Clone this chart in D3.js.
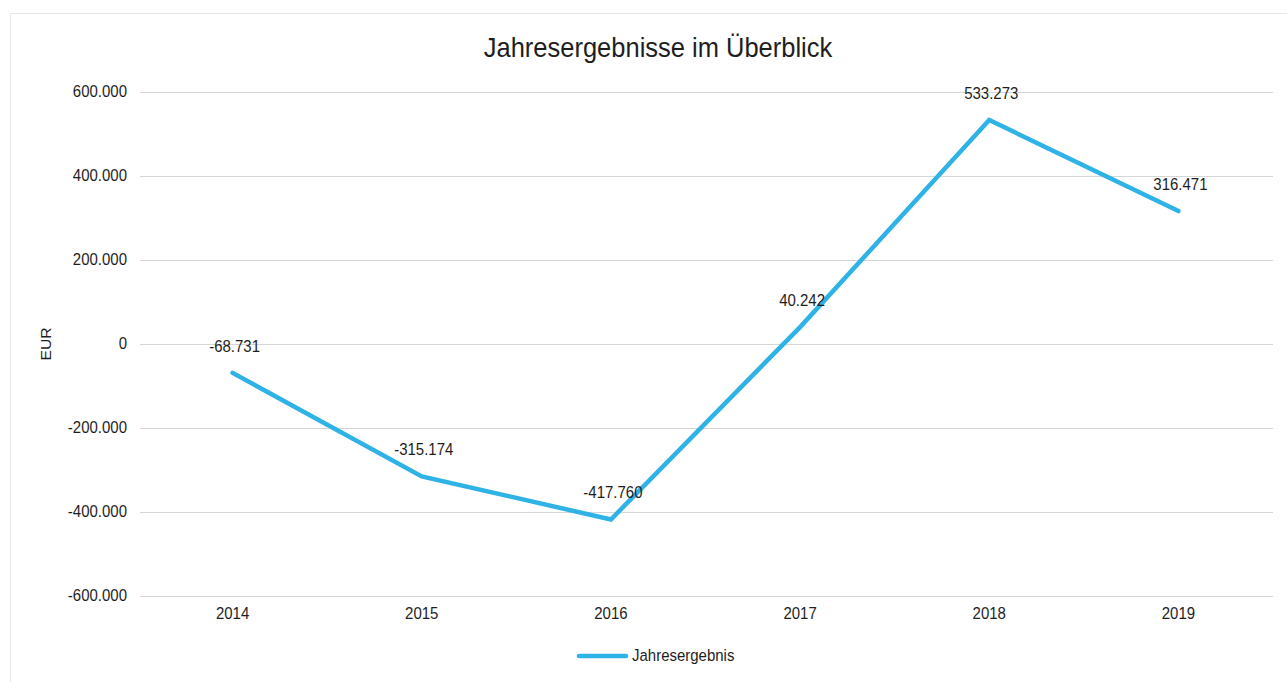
<!DOCTYPE html>
<html>
<head>
<meta charset="utf-8">
<script src="https://cdn.jsdelivr.net/npm/d3@7"></script>
<style>
  html, body { margin: 0; padding: 0; background: #fff; }
  svg { display: block; font-family: "Liberation Sans", Arial, sans-serif; }
</style>
</head>
<body>
<svg id="chart" width="1287" height="682"></svg>
<script>
// Annual results (EUR)
const years = ["2014", "2015", "2016", "2017", "2018", "2019"];
const results = [-68731, -315174, -417760, 40242, 533273, 316471];
const yTicks = [-600000, -400000, -200000, 0, 200000, 400000, 600000];
const seriesName = "Jahresergebnis";
const chartTitle = "Jahresergebnisse im Überblick";
const axisTitle = "EUR";

const W = 1287, H = 682;
const margin = { top: 92, right: 14, bottom: 86, left: 138 };
const color = "#2fb2e6";
const ink = "#1e1e1e";
const stretch = 1.12; // glyphs are drawn slightly taller than wide

const svg = d3.select("#chart");

// outer chart frame
svg.append("rect")
  .attr("x", 10.5).attr("y", 13.5)
  .attr("width", W - 10).attr("height", H)
  .attr("fill", "none").attr("stroke", "#e8e8e8").attr("stroke-width", 1);

const x = d3.scaleBand().domain(years)
  .range([margin.left, W - margin.right]).padding(0);
const y = d3.scaleLinear().domain([-600000, 600000])
  .range([H - margin.bottom, margin.top]);

const fmt = v => v === 0 ? "0" : d3.format(",")(v).replace(/,/g, ".").replace("−", "-");

// place a text at (px, py) with a vertical stretch
function label(g, px, py, txt, size, anchor) {
  return g.append("text")
    .attr("transform", `translate(${px},${py}) scale(1,${stretch})`)
    .attr("text-anchor", anchor || "middle")
    .attr("font-size", size).attr("fill", ink)
    .text(txt);
}

// horizontal grid
svg.append("g")
  .selectAll("line").data(yTicks).join("line")
  .attr("x1", margin.left + 2).attr("x2", W - margin.right)
  .attr("y1", d => y(d) + 0.5).attr("y2", d => y(d) + 0.5)
  .attr("stroke", "#d6d6d6").attr("stroke-width", 1);

// y axis labels
const yAxis = d3.axisLeft(y).tickValues(yTicks).tickSize(0).tickPadding(0).tickFormat(fmt);
svg.append("g")
  .attr("transform", `translate(${margin.left - 11},0)`)
  .call(yAxis)
  .call(g => g.select(".domain").remove())
  .call(g => g.selectAll("text").attr("font-size", 15).attr("fill", ink)
    .attr("font-family", "Liberation Sans, Arial, sans-serif")
    .attr("transform", `scale(1,${stretch})`).attr("dy", "0.28em"));

// x axis labels
const xAxis = d3.axisBottom(x).tickSize(0).tickPadding(0);
svg.append("g")
  .attr("transform", `translate(0,${H - margin.bottom + 11})`)
  .call(xAxis)
  .call(g => g.select(".domain").remove())
  .call(g => g.selectAll("text").attr("font-size", 15).attr("fill", ink)
    .attr("font-family", "Liberation Sans, Arial, sans-serif")
    .attr("transform", `scale(1,${stretch})`));

// axis title
svg.append("text")
  .attr("transform", `translate(51,${y(0)}) rotate(-90) scale(${stretch},1)`)
  .attr("text-anchor", "middle")
  .attr("font-size", 14).attr("fill", ink)
  .text(axisTitle);

// chart title
label(svg, 658, 57, chartTitle, 25.5);

const data = years.map((yr, i) => ({ yr, v: results[i] }));
const cx = d => x(d.yr) + x.bandwidth() / 2;

// series line
svg.append("path")
  .datum(data)
  .attr("fill", "none")
  .attr("stroke", color)
  .attr("stroke-width", 4.5)
  .attr("stroke-linejoin", "miter")
  .attr("stroke-linecap", "round")
  .attr("d", d3.line().x(cx).y(d => y(d.v)));

// data labels
const dl = svg.append("g");
data.forEach(d => label(dl, cx(d) + 2, y(d.v) - 21, fmt(d.v), 15));

// legend
const lg = svg.append("g").attr("transform", "translate(579,656)");
lg.append("line")
  .attr("x1", 0).attr("x2", 47).attr("y1", 0).attr("y2", 0)
  .attr("stroke", color).attr("stroke-width", 4.5).attr("stroke-linecap", "round");
label(lg, 53, 5, seriesName, 15, "start");
</script>
</body>
</html>
